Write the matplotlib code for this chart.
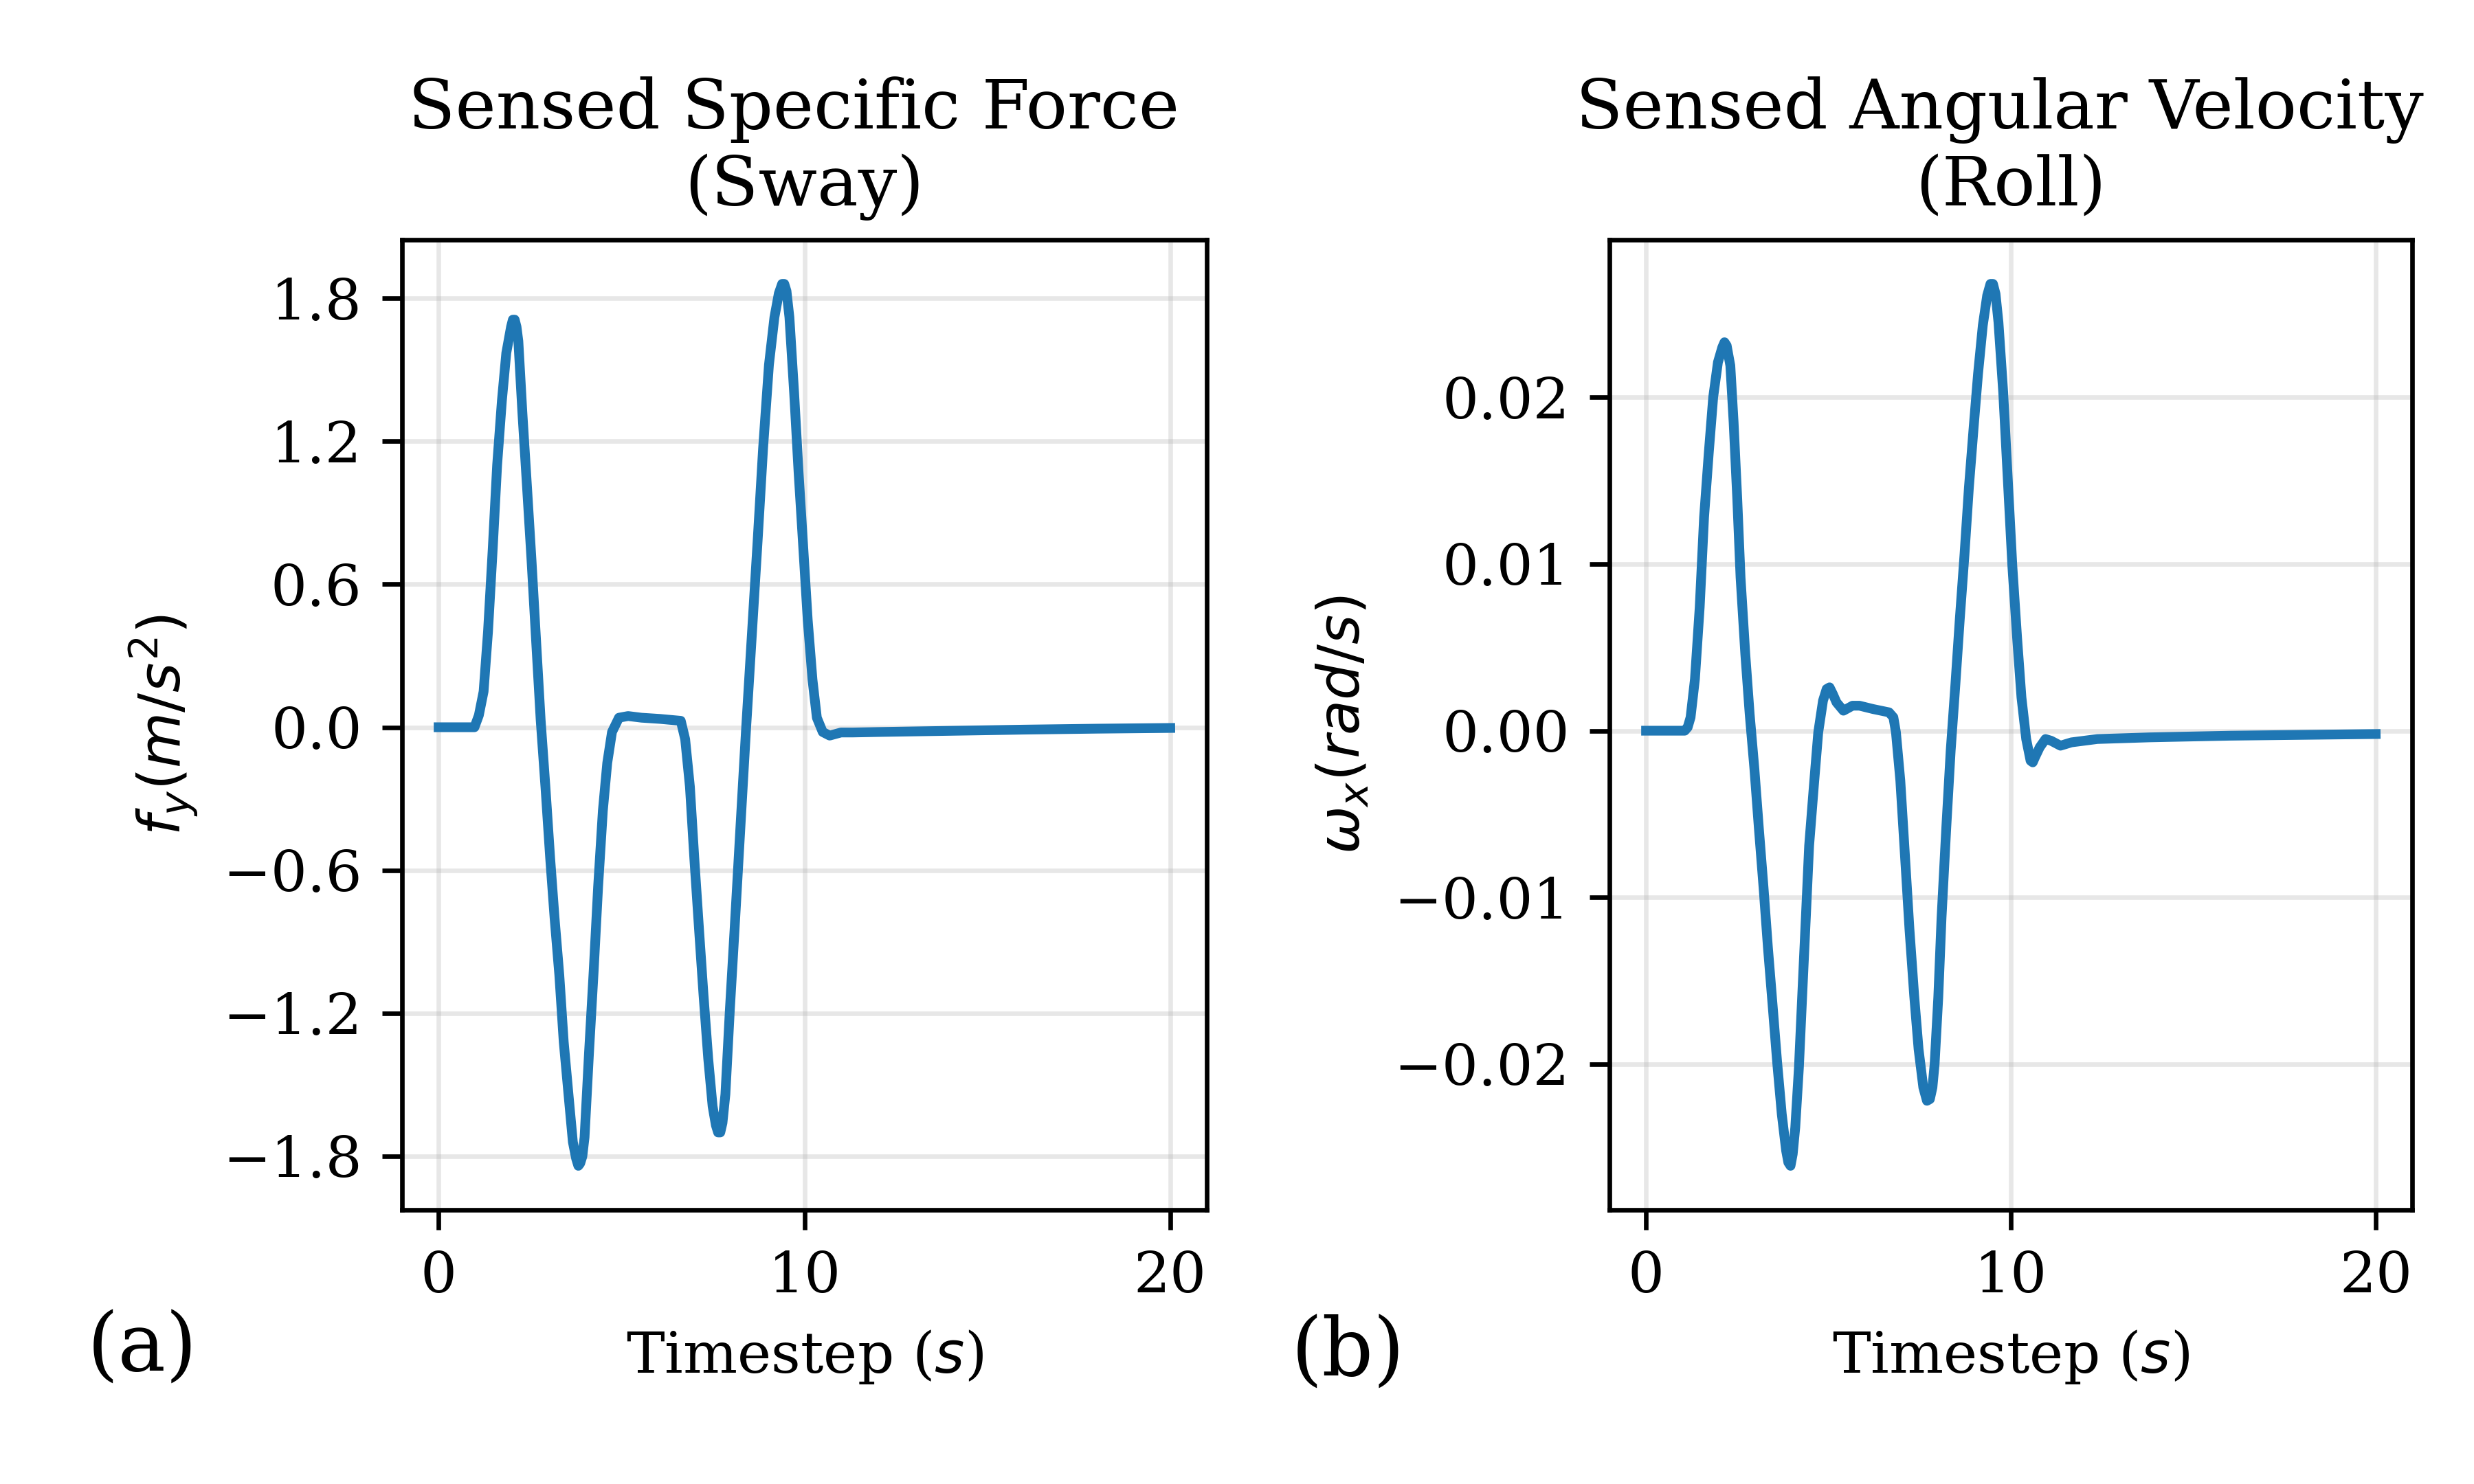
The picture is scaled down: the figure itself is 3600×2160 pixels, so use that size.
import matplotlib
matplotlib.use("Agg")
import matplotlib.pyplot as plt

plt.rcParams['font.family'] = 'serif'
plt.rcParams['font.serif'] = ['DejaVu Serif']

# Panel (a): sensed specific force (sway)
t_a = [0.0, 0.98, 1.10, 1.23, 1.35, 1.48, 1.60, 1.73, 1.85, 1.98, 2.03, 2.08, 2.13, 2.18, 2.29,
       2.42, 2.54, 2.67, 2.79, 2.92, 3.05, 3.17, 3.30, 3.42, 3.55, 3.67, 3.76, 3.82, 3.87,
       3.93, 3.99, 4.11, 4.24, 4.36, 4.49, 4.61, 4.74, 4.93, 5.18, 5.55, 6.05, 6.62,
       6.74, 6.87, 6.99, 7.12, 7.24, 7.37, 7.49, 7.58, 7.64, 7.70, 7.76, 7.84, 7.96, 8.09,
       8.25, 8.40, 8.56, 8.72, 8.87, 9.03, 9.18, 9.30, 9.39, 9.45, 9.51, 9.59, 9.72, 9.84,
       9.97, 10.09, 10.22, 10.34, 10.50, 10.69, 11.0, 11.32, 12.0, 14.0, 16.0, 18.0, 20.0]
fy_a = [0.0, 0.0, 0.05, 0.15, 0.40, 0.75, 1.10, 1.37, 1.57, 1.68, 1.71, 1.71, 1.68, 1.62, 1.32,
        1.00, 0.70, 0.35, 0.03, -0.25, -0.55, -0.80, -1.04, -1.32, -1.54, -1.74, -1.81, -1.84, -1.83,
        -1.80, -1.72, -1.37, -1.02, -0.67, -0.35, -0.15, -0.02, 0.04, 0.047, 0.04, 0.035, 0.027,
        -0.05, -0.25, -0.55, -0.85, -1.12, -1.39, -1.59, -1.67, -1.70, -1.70, -1.66, -1.54, -1.19, -0.85,
        -0.42, -0.02, 0.38, 0.78, 1.17, 1.52, 1.72, 1.82, 1.86, 1.86, 1.83, 1.72, 1.40, 1.07,
        0.75, 0.45, 0.20, 0.04, -0.02, -0.035, -0.022, -0.022, -0.02, -0.015, -0.01, -0.006, -0.003]

# Panel (b): sensed angular velocity (roll)
t_b = [0.0, 1.06, 1.14, 1.22, 1.34, 1.47, 1.59, 1.72, 1.84, 1.97, 2.09, 2.15, 2.21, 2.31, 2.40,
       2.50, 2.59, 2.72, 2.84, 2.97, 3.09, 3.22, 3.34, 3.47, 3.59, 3.72, 3.84, 3.90, 3.96,
       4.02, 4.09, 4.19, 4.28, 4.38, 4.47, 4.60, 4.72, 4.85, 4.95, 5.03, 5.12, 5.22, 5.41, 5.66,
       5.85, 6.22, 6.66, 6.78, 6.85, 6.97, 7.10, 7.22, 7.35, 7.47, 7.60, 7.70, 7.78, 7.85, 7.91, 8.01,
       8.10, 8.23, 8.35, 8.48, 8.60, 8.73, 8.85, 8.98, 9.10, 9.23, 9.35, 9.44, 9.51, 9.58, 9.66,
       9.79, 9.92, 10.04, 10.17, 10.29, 10.42, 10.54, 10.60, 10.66, 10.79, 10.95, 11.10, 11.36,
       11.66, 12.37, 13.8, 16.0, 18.0, 20.0]
wx_b = [0.0, 0.0, 0.0002, 0.0008, 0.0031, 0.0074, 0.0128, 0.0167, 0.0200, 0.0221, 0.0230, 0.0233, 0.0231, 0.0219, 0.0185,
        0.0139, 0.0092, 0.0046, 0.0010, -0.0023, -0.0058, -0.0094, -0.0130, -0.0165, -0.0198, -0.0230, -0.0252, -0.0259, -0.0261,
        -0.0254, -0.0238, -0.0202, -0.0159, -0.0112, -0.0069, -0.0033, -0.0001, 0.0018, 0.0025, 0.0026, 0.0022, 0.0017, 0.0012, 0.0015,
        0.0015, 0.0013, 0.0011, 0.0008, -0.0001, -0.0030, -0.0076, -0.0119, -0.0159, -0.0191, -0.0214, -0.0222, -0.0221, -0.0214, -0.0200, -0.0160,
        -0.0112, -0.0058, -0.0012, 0.0028, 0.0067, 0.0106, 0.0146, 0.0182, 0.0214, 0.0243, 0.0261, 0.0268, 0.0268, 0.0262, 0.0245,
        0.0203, 0.0149, 0.0099, 0.0056, 0.0020, -0.0005, -0.0018, -0.0019, -0.0016, -0.0010, -0.0005, -0.0006, -0.0009,
        -0.0007, -0.0005, -0.0004, -0.0003, -0.00025, -0.0002]

titles = ["Sensed Specific Force \n(Sway)", "Sensed Angular Velocity \n(Roll)"]
ylabels = [r"$f_y (m/s^2)$", r"$\omega_x (rad/s)$"]
xlabel = r"Timestep ($s$)"
xticks = [0, 10, 20]
yticks_a = [-1.8, -1.2, -0.6, 0.0, 0.6, 1.2, 1.8]
yticks_b = [-0.02, -0.01, 0.0, 0.01, 0.02]
panel_labels = ["(a)", "(b)"]

fig = plt.figure(figsize=(6, 3.6), dpi=600)
ax1 = fig.add_axes([0.1625, 0.1847, 0.3253, 0.6537])
ax2 = fig.add_axes([0.6506, 0.1847, 0.3244, 0.6537])

for ax, t, y, title, yl, yt in [(ax1, t_a, fy_a, titles[0], ylabels[0], yticks_a),
                                (ax2, t_b, wx_b, titles[1], ylabels[1], yticks_b)]:
    ax.plot(t, y, color='#1f77b4', linewidth=1.7)
    ax.set_title(title, fontsize=12)
    ax.set_xlabel(xlabel, fontsize=10)
    ax.set_ylabel(yl, fontsize=10)
    ax.set_xticks(xticks)
    ax.set_yticks(yt)
    ax.tick_params(labelsize=10)
    ax.grid(True, alpha=0.3)

fig.text(0.0575, 0.091, panel_labels[0], fontsize=14, ha='center', va='center')
fig.text(0.545, 0.088, panel_labels[1], fontsize=14, ha='center', va='center')

fig.savefig("out.png", dpi=600)
